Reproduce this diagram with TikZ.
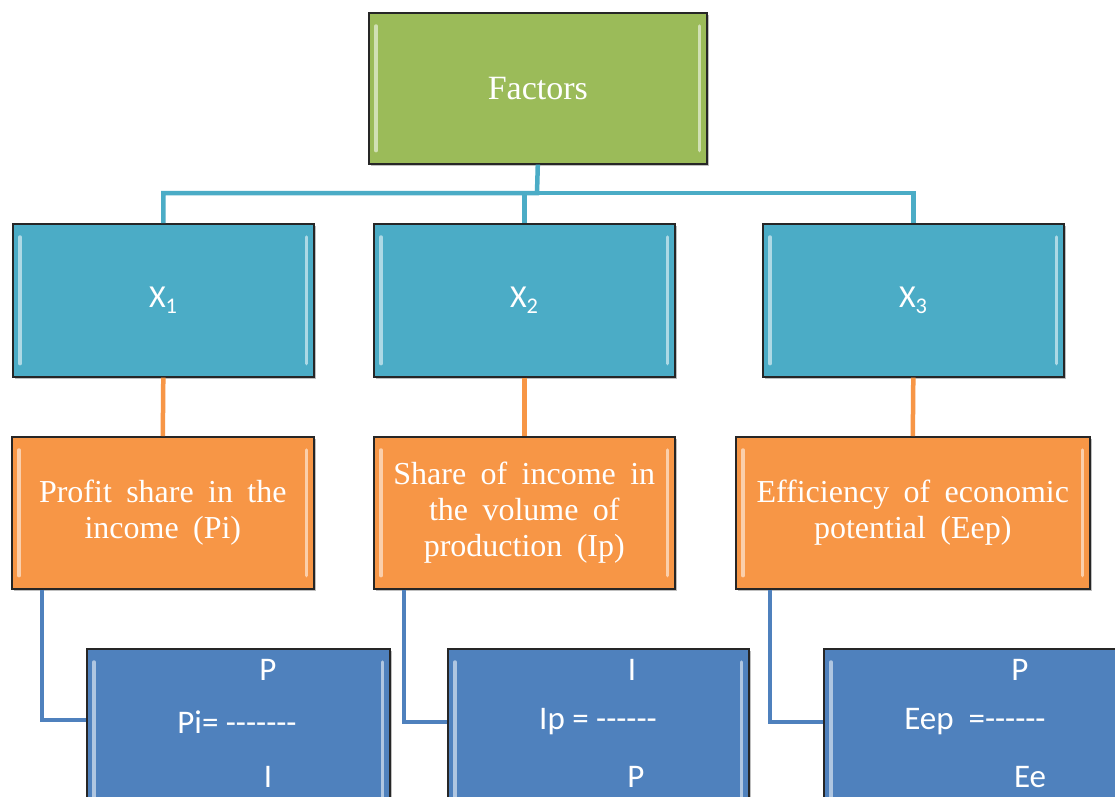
\documentclass[tikz,border=0pt]{standalone}
\usepackage{fontspec}
\setmainfont{Liberation Serif}
\newfontfamily\calib{Carlito}
\usetikzlibrary{shadows}
\definecolor{cgreen}{HTML}{9BBB59}
\definecolor{cteal}{HTML}{4BACC6}
\definecolor{corange}{HTML}{F79646}
\definecolor{cblue}{HTML}{4F81BD}
\newcommand\widespaces{\spaceskip=0.45em plus 0.1em\relax}
\tikzset{
  box/.style={draw=black!85, line width=1.6pt, anchor=north west, inner sep=0pt,
    text=white, align=center,
    drop shadow={opacity=0.25, shadow xshift=2pt, shadow yshift=-2pt, fill=black}},
  topbox/.style={box, fill=cgreen, minimum width=338pt, minimum height=151pt,
    font=\fontsize{34}{38}\selectfont},
  xbox/.style={box, fill=cteal, minimum width=301pt, minimum height=153pt,
    font=\calib\fontsize{32}{36}\selectfont},
  obox/.style={box, fill=corange, minimum height=152pt,
    font=\fontsize{32}{36}\selectfont\widespaces},
  bbox/.style={box, fill=cblue, minimum height=170pt},
  btext/.style={text=white, inner sep=0pt, font=\calib\fontsize{33}{36}\selectfont},
  bevelline/.style={white, opacity=0.55, line width=3.5pt, line cap=round},
  tealline/.style={cteal, line width=4.5pt},
  oline/.style={corange, line width=4.5pt},
  bline/.style={cblue, line width=4.5pt},
}
\newcommand\bevel[1]{%
  \draw[bevelline] ([xshift=8pt,yshift=-14pt]#1.north west) -- ([xshift=8pt,yshift=14pt]#1.south west);
  \draw[bevelline] ([xshift=-8pt,yshift=-14pt]#1.north east) -- ([xshift=-8pt,yshift=14pt]#1.south east);}
\begin{document}
\begin{tikzpicture}[x=1pt,y=-1pt]
\clip (0,0) rectangle (1115,796);
\fill[white] (0,0) rectangle (1115,796);
\coordinate (jn) at (537,193);
\coordinate (b1in) at (86,720);
\coordinate (b2in) at (447,722);
\coordinate (b3in) at (823,722);
% boxes
\node[topbox] (fac) at (368,12) {Factors};
\node[xbox] (x1) at (12,223) {X\textsubscript{1}};
\node[xbox] (x2) at (373,223) {X\textsubscript{2}};
\node[xbox] (x3) at (762,223) {X\textsubscript{3}};
\node[obox, minimum width=302pt] (o1) at (11,436) {Profit share in the\\income (Pi)};
\node[obox, minimum width=301pt] (o2) at (373,436) {Share of income in\\the volume of\\production (Ip)};
\node[obox, minimum width=354pt] (o3) at (735,436) {Efficiency of economic\\potential (Eep)};
\node[bbox, minimum width=303pt] (b1) at (86,648) {};
\node[bbox, minimum width=301pt] (b2) at (447,648) {};
\node[bbox, minimum width=320pt] (b3) at (823,648) {};
\foreach \n in {fac,x1,x2,x3,o1,o2,o3,b1,b2,b3} {\bevel{\n}}
% connector lines
\draw[tealline] (fac.south) -- (jn) -| (x1.north);
\draw[tealline] (jn) -| (x2.north);
\draw[tealline] (jn) -| (x3.north);
\draw[oline] (x1.south) -- (o1.north);
\draw[oline] (x2.south) -- (o2.north);
\draw[oline] (x3.south) -- (o3.north);
\draw[bline] ([xshift=31pt]o1.south west) |- (b1in);
\draw[bline] ([xshift=31pt]o2.south west) |- (b2in);
\draw[bline] ([xshift=35pt]o3.south west) |- (b3in);
% formula texts
\node[btext] (p1a) at (268,670) {P};
\node[btext] (p1b) at (237,722) {Pi= -------};
\node[btext] (p1c) at (268,777) {I};
\node[btext] (p2a) at (632,670) {I};
\node[btext] (p2b) at (598,722) {Ip = ------};
\node[btext] (p2c) at (636,777) {P};
\node[btext] (p3a) at (1020,670) {P};
\node[btext] (p3b) at (975,722) {Eep\ \ =------};
\node[btext] (p3c) at (1030,777) {Ee};
\end{tikzpicture}
\end{document}
